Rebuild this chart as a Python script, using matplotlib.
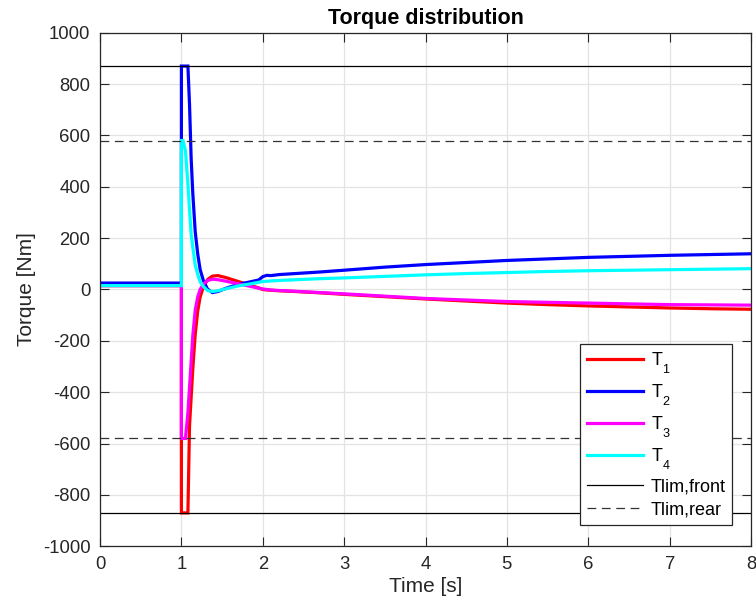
import matplotlib
matplotlib.use("Agg")
import matplotlib.pyplot as plt

try:
    import matplotlib._mathtext as _mt
    _mt.FontConstantsBase.sub1 = 0.85
    _mt.FontConstantsBase.sub2 = 0.85
except Exception:
    pass

plt.rcParams['font.family'] = ['Liberation Sans', 'DejaVu Sans']
plt.rcParams['mathtext.fontset'] = 'custom'
plt.rcParams['mathtext.rm'] = 'Liberation Sans'
plt.rcParams['mathtext.it'] = 'Liberation Sans'
plt.rcParams['axes.unicode_minus'] = False

# ---- data ----
time_s = [0, 1.0, 1.0, 1.02, 1.05, 1.08, 1.10, 1.12, 1.14, 1.17, 1.20, 1.23, 1.27,
          1.32, 1.38, 1.45, 1.55, 1.70, 1.85, 1.95, 2.0, 2.05, 2.1, 2.2, 2.4, 2.7,
          3.0, 3.5, 4.0, 4.5, 5.0, 5.5, 6.0, 6.5, 7.0, 7.5, 8.0]

T1 = [15, 15, -870, -870, -870, -870, -530, -420, -310, -175, -85, -30, 10,
      38, 52, 54, 46, 31, 16, 6, 0, -2, -3, -5, -8, -13,
      -19, -28, -37, -45, -53, -59, -64, -68, -72, -75, -77]

T2 = [25, 25, 870, 870, 870, 870, 720, 510, 375, 225, 140, 78, 35,
      2, -12, -8, 5, 20, 30, 37, 50, 55, 54, 58, 62, 68,
      75, 87, 97, 105, 113, 119, 125, 129, 133, 136, 139]

T3 = [15, 15, -580, -580, -580, -480, -380, -280, -180, -80, -30, 0, 20,
      35, 40, 38, 32, 22, 12, 5, 2, 0, -2, -4, -7, -12,
      -17, -26, -35, -41, -47, -50, -53, -56, -59, -60, -61]

T4 = [15, 15, 580, 580, 540, 410, 310, 215, 165, 95, 60, 30, 12,
      -4, -8, -5, 3, 14, 22, 28, 31, 32, 33, 35, 38, 42,
      45, 51, 57, 62, 66, 70, 73, 75, 77, 79, 81]

T_lim_front = 870
T_lim_rear = 580

series_labels = ['T$_1$', 'T$_2$', 'T$_3$', 'T$_4$']
series_colors = ['#ff0000', '#0000ff', '#ff00ff', '#00ffff']

x_ticks = [0, 1, 2, 3, 4, 5, 6, 7, 8]
y_ticks = [-1000, -800, -600, -400, -200, 0, 200, 400, 600, 800, 1000]

# ---- plot ----
fig = plt.figure(figsize=(7.56, 6.12), dpi=100)
ax = fig.add_axes([0.1323, 0.1074, 0.8611, 0.8392])

for vals, lab, col in zip([T1, T2, T3, T4], series_labels, series_colors):
    ax.plot(time_s, vals, color=col, lw=2.3, label=lab, solid_joinstyle='miter')

ax.axhline(T_lim_front, color='black', lw=0.9, label='Tlim,front')
ax.axhline(-T_lim_front, color='black', lw=0.9)
ax.axhline(T_lim_rear, color='#333333', lw=0.9, ls=(0, (7, 4.5)), label='Tlim,rear')
ax.axhline(-T_lim_rear, color='#333333', lw=0.9, ls=(0, (7, 4.5)))

ax.set_xlim(0, 8)
ax.set_ylim(-1000, 1000)
ax.set_xticks(x_ticks)
ax.set_yticks(y_ticks)
ax.grid(True, color='#e3e3e3', lw=0.9)
ax.set_axisbelow(True)

tc = '#262626'
ax.tick_params(direction='in', length=6.5, width=0.8, colors=tc, labelsize=13.3,
               top=True, right=True, pad=7)
for s in ax.spines.values():
    s.set_color(tc)
    s.set_linewidth(0.9)

ax.set_xlabel('Time [s]', fontsize=15, color=tc, labelpad=3)
ax.set_ylabel('Torque [Nm]', fontsize=15, color=tc, labelpad=5)
ax.set_title('Torque distribution', fontsize=15.5, fontweight='bold', color='black', pad=6)

leg = ax.legend(loc='lower right', bbox_to_anchor=(0.971, 0.0415), fontsize=13,
                handlelength=3.1, fancybox=False, framealpha=1, edgecolor='#262626',
                borderpad=0.35, labelspacing=0.36, handletextpad=0.45,
                borderaxespad=0)
leg.get_frame().set_linewidth(0.9)

fig.savefig('out.png', dpi=100)
